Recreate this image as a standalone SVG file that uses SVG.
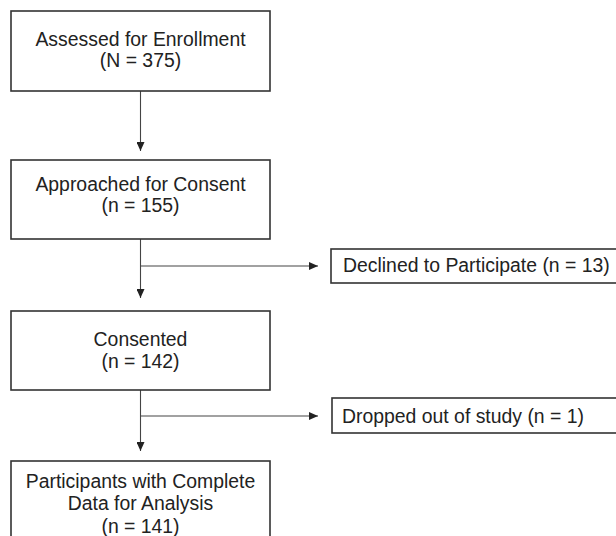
<svg xmlns="http://www.w3.org/2000/svg" width="616" height="536" viewBox="0 0 616 536">
<style>
.box{fill:#fff;stroke:#333;stroke-width:1.6}
.t{font-family:"Liberation Sans",Arial,sans-serif;font-size:19.4px;fill:#222}
.c{text-anchor:middle}
.ln{stroke:#444;stroke-width:1.1;fill:none}
</style>
<defs>
<marker id="ah" viewBox="0 0 10 10" refX="10" refY="5" markerWidth="9" markerHeight="8" markerUnits="userSpaceOnUse" orient="auto" preserveAspectRatio="none">
<path d="M0,0 L10,5 L0,10 z" fill="#222"/>
</marker>
</defs>
<rect width="616" height="536" fill="#fff"/>
<g id="connectors">
<line class="ln" x1="140.5" y1="91" x2="140.5" y2="151" marker-end="url(#ah)"/>
<line class="ln" x1="140.5" y1="239" x2="140.5" y2="298" marker-end="url(#ah)"/>
<line class="ln" x1="140.5" y1="266" x2="318" y2="266" marker-end="url(#ah)"/>
<line class="ln" x1="140.5" y1="390" x2="140.5" y2="451" marker-end="url(#ah)"/>
<line class="ln" x1="140.5" y1="416" x2="318" y2="416" marker-end="url(#ah)"/>
</g>
<g id="n1">
<rect class="box" x="11" y="11" width="259" height="80"/>
<text class="t c" x="140.5" y="46">Assessed for Enrollment</text>
<text class="t c" x="140.5" y="67">(N = 375)</text>
</g>
<g id="n2">
<rect class="box" x="11" y="160" width="259" height="79"/>
<text class="t c" x="140.5" y="191">Approached for Consent</text>
<text class="t c" x="140.5" y="212">(n = 155)</text>
</g>
<g id="n3">
<rect class="box" x="331" y="249" width="300" height="34"/>
<text class="t" x="343" y="272">Declined to Participate (n = 13)</text>
</g>
<g id="n4">
<rect class="box" x="11" y="311" width="259" height="79"/>
<text class="t c" x="140.5" y="345.5">Consented</text>
<text class="t c" x="140.5" y="368">(n = 142)</text>
</g>
<g id="n5">
<rect class="box" x="332" y="398" width="300" height="35"/>
<text class="t" x="342" y="423">Dropped out of study (n = 1)</text>
</g>
<g id="n6">
<rect class="box" x="11" y="461" width="259" height="90"/>
<text class="t c" x="140.5" y="488">Participants with Complete</text>
<text class="t c" x="140.5" y="510">Data for Analysis</text>
<text class="t c" x="140.5" y="533">(n = 141)</text>
</g>
</svg>
